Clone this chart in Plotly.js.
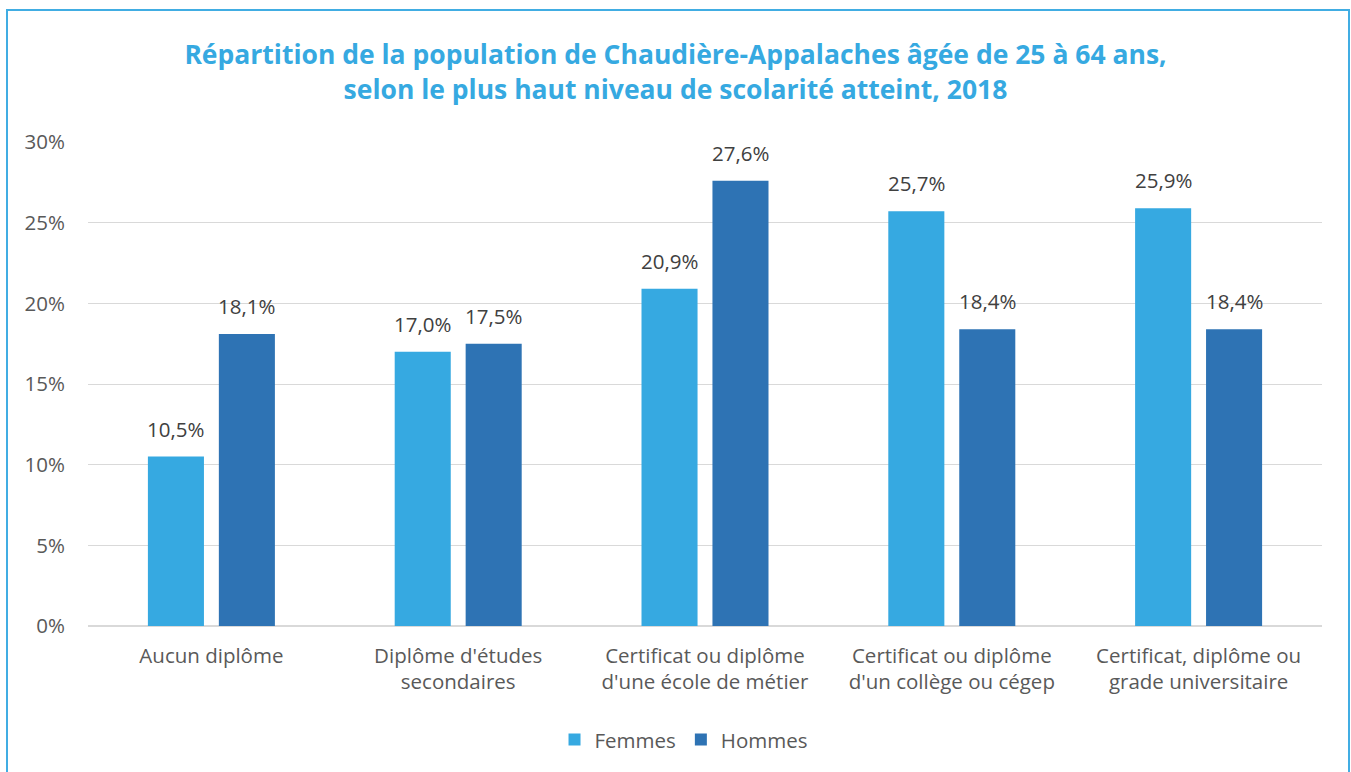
<!DOCTYPE html>
<html>
<head>
<meta charset="utf-8">
<script src="https://cdn.plot.ly/plotly-3.0.1.min.js"></script>
<style>
html,body{margin:0;padding:0;background:#fff;}
#wrap{position:relative;width:1351px;height:772px;overflow:hidden;}
#chart{position:absolute;left:0;top:0;width:1351px;height:772px;}
#frame{position:absolute;left:6px;top:9px;width:1340px;height:800px;border:2px solid #41ade3;pointer-events:none;}
</style>
</head>
<body>
<div id="wrap"><div id="chart"></div><div id="frame"></div></div>
<script>
const categories = [
  "Aucun diplôme",
  "Diplôme d'études<br>secondaires",
  "Certificat ou diplôme<br>d'une école de métier",
  "Certificat ou diplôme<br>d'un collège ou cégep",
  "Certificat, diplôme ou<br>grade universitaire"
];
const femmes = [10.5, 17.0, 20.9, 25.7, 25.9];
const hommes = [18.1, 17.5, 27.6, 18.4, 18.4];
const yTicks = [0, 5, 10, 15, 20, 25, 30];
const yTickText = yTicks.map(v => v + '%');

const FONT = "'Open Sans', sans-serif";
const SZ = 20.5;
const labelFont = {family: FONT, size: SZ, color: '#404040'};

const traces = [
  {type:'bar', name:'Femmes', x:categories, y:femmes, marker:{color:'#36a9e1'}, offsetgroup:'f'},
  {type:'bar', name:'Hommes', x:categories, y:hommes, marker:{color:'#2e73b4'}, offsetgroup:'h'}
];

// data labels, placed on each bar through the axis scales
const fmt = v => v.toFixed(1).replace('.', ',') + '%';
const GROUP_SHIFT = 35.5;
const annotations = [];
[[femmes, -GROUP_SHIFT], [hommes, GROUP_SHIFT]].forEach(([vals, shift]) => {
  vals.forEach((v, i) => annotations.push({
    x: categories[i], y: v, xref:'x', yref:'y', text: fmt(v), showarrow:false,
    xshift: shift, yshift: 12, yanchor:'bottom', font: labelFont
  }));
});

const layout = {
  width:1351, height:772,
  paper_bgcolor:'rgba(0,0,0,0)', plot_bgcolor:'#fff',
  separators:', ',
  margin:{l:88, r:29, t:142, b:146},
  title:{text:'Répartition de la population de Chaudière-Appalaches âgée de 25 à 64 ans,<br>selon le plus haut niveau de scolarité atteint, 2018',
    font:{family:FONT, size:26.5, color:'#36a9e1', weight:'bold'}, x:0.5, xanchor:'center', y:0.917, yanchor:'middle'},
  barmode:'group', bargap:0.425, bargroupgap:0.21,
  xaxis:{tickfont:{family:FONT, size:SZ, color:'#595959'}, showline:false, ticks:'', automargin:false,
    ticklabelstandoff:15},
  yaxis:{range:[0,30], tickmode:'array', tickvals:yTicks, ticktext:yTickText,
    tickfont:{family:FONT, size:SZ, color:'#595959'},
    gridcolor:'#d9d9d9', gridwidth:1, zeroline:true, zerolinecolor:'#d9d9d9', zerolinewidth:2,
    ticklabelstandoff:22, automargin:false},
  legend:{orientation:'h', x:0.483, xanchor:'center', y:-0.235, yanchor:'middle',
    font:{family:FONT, size:SZ, color:'#595959'}},
  annotations: annotations,
  showlegend:true
};
Plotly.newPlot('chart', traces, layout, {displayModeBar:false, staticPlot:true});
</script>
</body>
</html>
